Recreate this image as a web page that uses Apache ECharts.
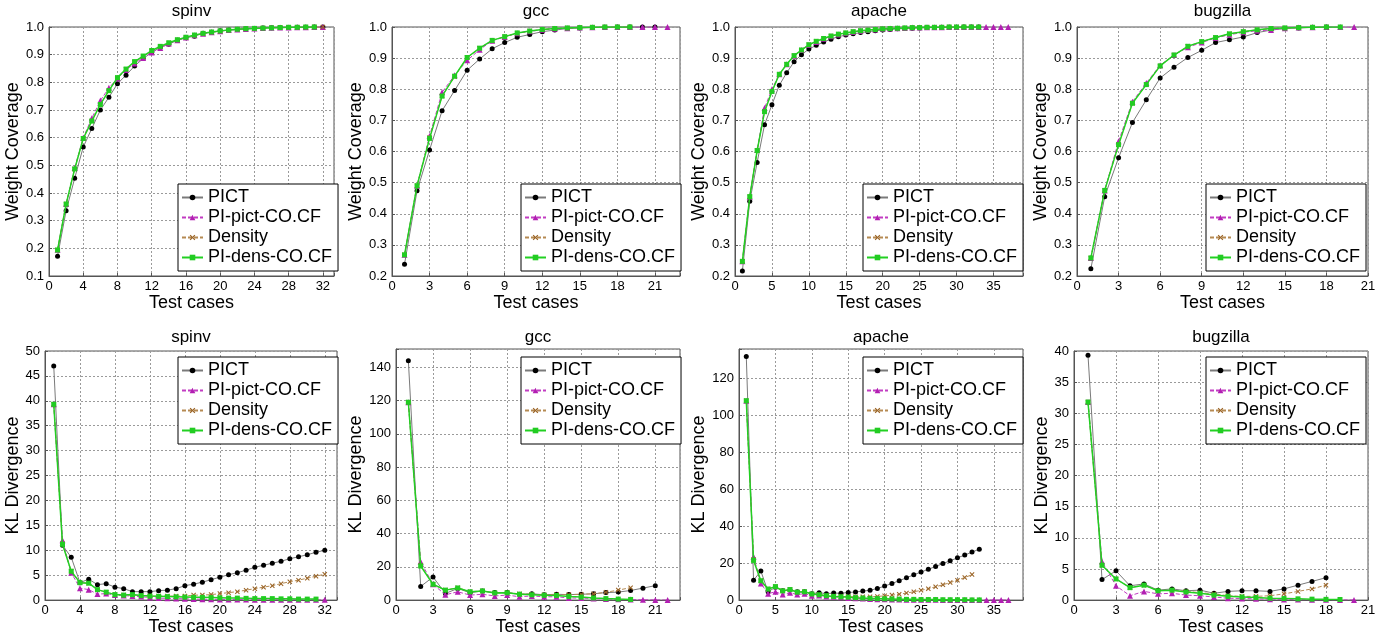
<!DOCTYPE html>
<html>
<head>
<meta charset="utf-8">
<script src="https://cdn.jsdelivr.net/npm/echarts@6/dist/echarts.min.js"></script>
<style>html,body{margin:0;padding:0;background:#fff}#c{width:1388px;height:637px}</style>
</head>
<body>
<div id="c"></div>
<script>
// ---------- DATA (x = test case index starting at 1) ----------
const seriesNames = ['PICT', 'PI-pict-CO.CF', 'Density', 'PI-dens-CO.CF'];
const panelTitles = ['spinv', 'gcc', 'apache', 'bugzilla'];

// Weight coverage
const spinvWcPict = [0.171,0.336,0.453,0.566,0.633,0.700,0.746,0.795,0.826,0.859,0.886,0.908,0.926,0.938,0.952,0.961,0.967,0.977,0.981,0.986,0.989,0.991,0.993,0.995,0.996,0.997,0.998,0.998,0.999,0.999,1.0,1.0];
const spinvWcPiPict = [0.195,0.360,0.490,0.600,0.670,0.734,0.780,0.814,0.845,0.868,0.888,0.908,0.924,0.940,0.952,0.962,0.970,0.976,0.981,0.985,0.989,0.991,0.993,0.995,0.996,0.997,0.998,0.998,0.999,0.999,1.0,1.0];
const spinvWcDensity = [0.194,0.360,0.487,0.597,0.660,0.720,0.770,0.816,0.847,0.873,0.893,0.913,0.929,0.942,0.953,0.962,0.970,0.976,0.981,0.985,0.989,0.992,0.994,0.995,0.996,0.997,0.998,0.998,0.999,0.999,1.0,1.0];
const spinvWcPiDens = [0.194,0.360,0.487,0.597,0.660,0.720,0.770,0.817,0.848,0.875,0.895,0.915,0.930,0.943,0.954,0.963,0.971,0.977,0.982,0.986,0.989,0.992,0.994,0.995,0.996,0.997,0.998,0.999,0.999,1.0,1.0];

const gccWcPict = [0.238,0.474,0.605,0.731,0.796,0.861,0.897,0.930,0.950,0.967,0.976,0.985,0.990,0.995,0.997,0.998,0.999,1.0,1.0,1.0,1.0];
const gccWcPiPict = [0.268,0.490,0.650,0.790,0.845,0.893,0.927,0.956,0.968,0.980,0.986,0.991,0.994,0.996,0.998,0.999,1.0,1.0,1.0,1.0,1.0,1.0];
const gccWcDensity = [0.268,0.490,0.645,0.778,0.840,0.902,0.932,0.957,0.969,0.980,0.987,0.992,0.995,0.997,0.998,0.999,1.0,1.0,1.0];
const gccWcPiDens = [0.268,0.490,0.642,0.778,0.842,0.902,0.932,0.957,0.969,0.981,0.987,0.992,0.995,0.997,0.998,0.999,1.0,1.0,1.0];

const apacheWcPict = [0.216,0.440,0.565,0.686,0.750,0.813,0.853,0.888,0.911,0.929,0.941,0.952,0.961,0.969,0.974,0.978,0.982,0.985,0.988,0.990,0.992,0.994,0.995,0.996,0.997,0.998,0.998,0.999,0.999,0.999,1.0,1.0,1.0];
const apacheWcPiPict = [0.247,0.455,0.605,0.740,0.800,0.848,0.880,0.908,0.926,0.942,0.952,0.962,0.970,0.976,0.980,0.984,0.987,0.990,0.992,0.994,0.995,0.996,0.997,0.998,0.998,0.999,0.999,0.999,1.0,1.0,1.0,1.0,1.0,1.0,1.0,1.0,1.0];
const apacheWcDensity = [0.247,0.455,0.603,0.728,0.793,0.848,0.880,0.908,0.926,0.943,0.954,0.963,0.971,0.977,0.981,0.985,0.988,0.990,0.992,0.994,0.995,0.996,0.997,0.998,0.998,0.999,0.999,0.999,1.0,1.0,1.0,1.0];
const apacheWcPiDens = [0.247,0.455,0.603,0.728,0.793,0.848,0.880,0.908,0.926,0.943,0.954,0.963,0.971,0.977,0.981,0.985,0.988,0.990,0.992,0.994,0.995,0.996,0.997,0.998,0.998,0.999,0.999,0.999,1.0,1.0,1.0,1.0,1.0];

const bugzillaWcPict = [0.223,0.455,0.580,0.693,0.766,0.836,0.871,0.902,0.925,0.950,0.959,0.968,0.982,0.990,0.995,0.997,0.999,1.0];
const bugzillaWcPiPict = [0.258,0.475,0.633,0.760,0.820,0.877,0.910,0.935,0.950,0.965,0.975,0.983,0.988,0.990,0.996,0.998,0.999,1.0,1.0,1.0];
const bugzillaWcDensity = [0.258,0.475,0.622,0.755,0.815,0.875,0.910,0.938,0.953,0.966,0.978,0.985,0.991,0.995,0.997,0.998,0.999,1.0];
const bugzillaWcPiDens = [0.258,0.475,0.622,0.755,0.815,0.875,0.910,0.938,0.953,0.966,0.978,0.985,0.991,0.995,0.997,0.998,0.999,1.0,1.0];

// KL divergence
const spinvKlPict = [47.0,11.0,8.6,3.5,4.2,3.1,3.3,2.6,2.3,1.7,1.7,1.7,1.9,2.0,2.3,2.9,3.2,3.6,4.1,4.6,5.1,5.5,6.0,6.6,7.0,7.4,7.8,8.3,8.7,9.1,9.6,10.0];
const spinvKlPiPict = [39.3,12.0,5.5,2.4,2.1,1.2,1.3,1.0,0.9,0.8,0.7,0.5,0.4,0.35,0.3,0.25,0.2,0.18,0.16,0.14,0.12,0.11,0.1,0.09,0.08,0.07,0.07,0.06,0.06,0.05,0.05,0.05];
const spinvKlDensity = [39.3,11.3,5.8,3.5,3.4,2.1,1.6,1.1,1.0,1.0,0.9,0.8,0.8,0.8,0.8,0.8,1.0,1.0,1.1,1.3,1.5,1.7,2.0,2.3,2.6,2.9,3.3,3.7,4.0,4.4,4.8,5.2];
const spinvKlPiDens = [39.3,11.2,5.8,3.5,3.4,2.1,1.6,1.1,1.0,1.1,0.9,0.8,0.75,0.7,0.65,0.6,0.55,0.55,0.5,0.45,0.4,0.4,0.35,0.3,0.3,0.3,0.25,0.25,0.2,0.2,0.2];

const gccKlPict = [144,8.2,13.9,4.0,7.0,4.4,5.5,4.5,4.5,3.5,3.8,3.2,3.5,3.3,3.5,3.8,4.5,4.8,5.8,7.2,8.7];
const gccKlPiPict = [119,23,9.5,3.2,5.0,3.0,3.5,2.5,3.0,2.0,2.5,2.0,2.0,1.3,1.2,1.0,0.6,0.5,0.3,0.2,0.1,0.05];
const gccKlDensity = [119,21,9.5,6.0,7.5,5.0,5.5,4.3,4.5,3.8,3.5,3.2,3.3,3.3,3.5,3.8,4.7,6.0,7.5];
const gccKlPiDens = [119,20.5,9.5,6.0,7.3,5.0,5.5,4.3,4.4,3.5,3.2,2.9,2.8,2.2,1.8,1.3,0.9,0.6,0.4];

const apacheKlPict = [132,10.8,15.7,4.5,7.0,5.0,5.5,4.5,4.5,3.5,4.0,3.5,3.8,3.7,4.1,4.4,4.9,5.3,6.3,7.6,9.0,10.5,12.1,13.7,15.2,16.7,18.2,19.8,21.3,22.9,24.4,26.0,27.6];
const apacheKlPiPict = [108,23.5,9.0,3.5,4.5,3.0,4.0,3.0,3.5,2.3,2.5,2.0,1.8,1.5,1.2,1.0,0.8,0.6,0.5,0.4,0.35,0.3,0.25,0.2,0.18,0.15,0.13,0.12,0.1,0.1,0.08,0.07,0.06,0.05,0.05,0.04,0.04];
const apacheKlDensity = [108,22,10.5,6.0,7.3,5.0,5.7,4.3,4.5,3.3,3.0,2.5,2.2,2.0,1.9,1.8,1.8,1.8,2.0,2.3,2.7,3.2,3.8,4.5,5.3,6.2,7.2,8.3,9.5,10.8,12.2,13.8];
const apacheKlPiDens = [108,21.5,10.5,6.0,7.3,5.0,5.7,4.3,4.5,3.3,2.9,2.4,2.0,1.8,1.6,1.3,1.1,0.9,0.8,0.7,0.6,0.5,0.4,0.4,0.3,0.3,0.3,0.2,0.2,0.2,0.2,0.1,0.1];

const bugzillaKlPict = [39.3,3.3,4.7,2.3,2.6,1.6,1.8,1.5,1.6,1.1,1.4,1.5,1.5,1.4,1.8,2.4,3.0,3.6];
const bugzillaKlPiPict = [31.8,6.2,2.3,0.7,1.4,1.0,1.1,0.8,0.7,0.5,0.3,0.25,0.2,0.15,0.1,0.08,0.06,0.05,0.03,0.02];
const bugzillaKlDensity = [31.8,5.6,3.4,2.0,2.4,1.5,1.6,1.4,1.2,1.0,0.7,0.6,0.6,0.7,1.0,1.4,1.8,2.4];
const bugzillaKlPiDens = [31.8,5.6,3.4,2.0,2.4,1.5,1.6,1.3,1.1,0.8,0.6,0.5,0.4,0.3,0.25,0.2,0.15,0.12,0.1];

// ---------- LAYOUT / STYLE ----------
const FONT = '"Liberation Sans", Arial, Helvetica, sans-serif';
const panels = [
  // top row
  {title: panelTitles[0], data: [spinvWcPict, spinvWcPiPict, spinvWcDensity, spinvWcPiDens], grid: [49, 27, 285, 249], xMax: 33.3, xInt: 4, yMin: 0.1, yMax: 1.0, yInt: 0.1, yName: 'Weight Coverage', yGap: 25, wc: true, legend: [178, 184]},
  {title: panelTitles[1], data: [gccWcPict, gccWcPiPict, gccWcDensity, gccWcPiDens], grid: [392, 27, 288, 249], xMax: 23, xInt: 3, yMin: 0.2, yMax: 1.0, yInt: 0.1, yName: 'Weight Coverage', yGap: 25, wc: true, legend: [521, 184]},
  {title: panelTitles[2], data: [apacheWcPict, apacheWcPiPict, apacheWcDensity, apacheWcPiDens], grid: [735, 27, 288, 249], xMax: 39, xInt: 5, yMin: 0.2, yMax: 1.0, yInt: 0.1, yName: 'Weight Coverage', yGap: 25, wc: true, legend: [863, 184]},
  {title: panelTitles[3], data: [bugzillaWcPict, bugzillaWcPiPict, bugzillaWcDensity, bugzillaWcPiDens], grid: [1077, 27, 291, 249], xMax: 21, xInt: 3, yMin: 0.2, yMax: 1.0, yInt: 0.1, yName: 'Weight Coverage', yGap: 24, wc: true, legend: [1206, 184]},
  // bottom row
  {title: panelTitles[0], data: [spinvKlPict, spinvKlPiPict, spinvKlDensity, spinvKlPiDens], grid: [45, 351, 292, 250], xMax: 33.4, xInt: 4, yMin: 0, yMax: 50, yInt: 5, yName: 'KL Divergence', yGap: 22, wc: false, legend: [178, 357]},
  {title: panelTitles[1], data: [gccKlPict, gccKlPiPict, gccKlDensity, gccKlPiDens], grid: [396, 349, 284, 252], xMax: 23, xInt: 3, yMin: 0, yMax: 151, yInt: 20, yName: 'KL Divergence', yGap: 29, wc: false, legend: [521, 357]},
  {title: panelTitles[2], data: [apacheKlPict, apacheKlPiPict, apacheKlDensity, apacheKlPiDens], grid: [739, 349, 284, 252], xMax: 39, xInt: 5, yMin: 0, yMax: 136, yInt: 20, yName: 'KL Divergence', yGap: 29, wc: false, legend: [863, 357]},
  {title: panelTitles[3], data: [bugzillaKlPict, bugzillaKlPiPict, bugzillaKlDensity, bugzillaKlPiDens], grid: [1074, 351, 294, 250], xMax: 21, xInt: 3, yMin: 0, yMax: 40, yInt: 5, yName: 'KL Divergence', yGap: 22, wc: false, legend: [1206, 357]}
];

const styles = [
  {lineColor: '#7a7a7a', symColor: '#000000', symbol: 'circle', size: 5, type: 'solid', width: 1},
  {lineColor: '#c23cc2', symColor: '#b21fb2', symbol: 'triangle', size: 6, type: [4, 2], width: 1},
  {lineColor: '#b58a52', symColor: '#9a6426', symbol: 'path://M0,1.5L1.5,0L5,3.5L8.5,0L10,1.5L6.5,5L10,8.5L8.5,10L5,6.5L1.5,10L0,8.5L3.5,5Z', size: 5, type: [4, 2], width: 1},
  {lineColor: '#22d022', symColor: '#22cc22', symbol: 'rect', size: 5, type: 'solid', width: 1.5}
];

const tickFmt = (int, dec) => v => {
  const k = v / int;
  if (Math.abs(k - Math.round(k)) > 1e-6) return '';
  return dec ? v.toFixed(1) : String(Math.round(v));
};

const option = {
  animation: false,
  backgroundColor: '#fff',
  title: [], grid: [], xAxis: [], yAxis: [], legend: [], series: []
};

panels.forEach((p, i) => {
  const [gl, gt, gw, gh] = p.grid;
  option.title.push({
    text: p.title, left: gl + gw / 2, top: i < 4 ? 3 : 329, textAlign: 'center', padding: 0,
    textStyle: {fontFamily: FONT, fontSize: 17, fontWeight: 'normal', color: '#000'}
  });
  option.grid.push({left: gl, top: gt, width: gw, height: gh, show: true, borderColor: '#555', borderWidth: 1, backgroundColor: 'transparent', containLabel: false});
  option.xAxis.push({
    type: 'value', gridIndex: i, min: 0, max: p.xMax, interval: p.xInt,
    name: 'Test cases', nameLocation: 'middle', nameGap: 14,
    nameTextStyle: {fontFamily: FONT, fontSize: 18, color: '#000'},
    axisLine: {show: true, onZero: false, lineStyle: {color: '#555', width: 1}},
    axisTick: {show: true, inside: true, length: 3, lineStyle: {color: '#555'}},
    axisLabel: {fontFamily: FONT, fontSize: 13, color: '#000', margin: 4, formatter: tickFmt(p.xInt, false)},
    splitLine: {show: true, lineStyle: {color: '#9a9a9a', type: [2, 2], width: 1}}
  });
  option.yAxis.push({
    type: 'value', gridIndex: i, min: p.yMin, max: p.yMax, interval: p.yInt,
    name: p.yName, nameLocation: 'middle', nameGap: p.yGap,
    nameTextStyle: {fontFamily: FONT, fontSize: 18, color: '#000'},
    axisLine: {show: true, onZero: false, lineStyle: {color: '#555', width: 1}},
    axisTick: {show: true, inside: true, length: 3, lineStyle: {color: '#555'}},
    axisLabel: {fontFamily: FONT, fontSize: 13, color: '#000', margin: 5, formatter: tickFmt(p.yInt, p.wc)},
    splitLine: {show: true, lineStyle: {color: '#9a9a9a', type: [2, 2], width: 1}}
  });
  option.legend.push({
    data: seriesNames, orient: 'vertical', left: p.legend[0], top: p.legend[1],
    itemWidth: 21, itemHeight: 7, itemGap: 1, padding: [4, 6, 4, 3],
    borderColor: '#000', borderWidth: 1, backgroundColor: '#fff', borderRadius: 0,
    textStyle: {fontFamily: FONT, fontSize: 18, color: '#000', lineHeight: 19},
    selectedMode: false, z: 10
  });
  p.data.forEach((arr, s) => {
    const st = styles[s];
    option.series.push({
      name: seriesNames[s], type: 'line', xAxisIndex: i, yAxisIndex: i,
      data: arr.map((v, k) => [k + 1, v]),
      symbol: st.symbol, symbolSize: st.size, showSymbol: true,
      lineStyle: {color: st.lineColor, width: st.width, type: st.type},
      itemStyle: {color: st.symColor, borderWidth: 0},
      emphasis: {disabled: true}, z: 2 + s, clip: true
    });
  });
});

const chart = echarts.init(document.getElementById('c'), null, {renderer: 'canvas'});
chart.setOption(option);
</script>
</body>
</html>
